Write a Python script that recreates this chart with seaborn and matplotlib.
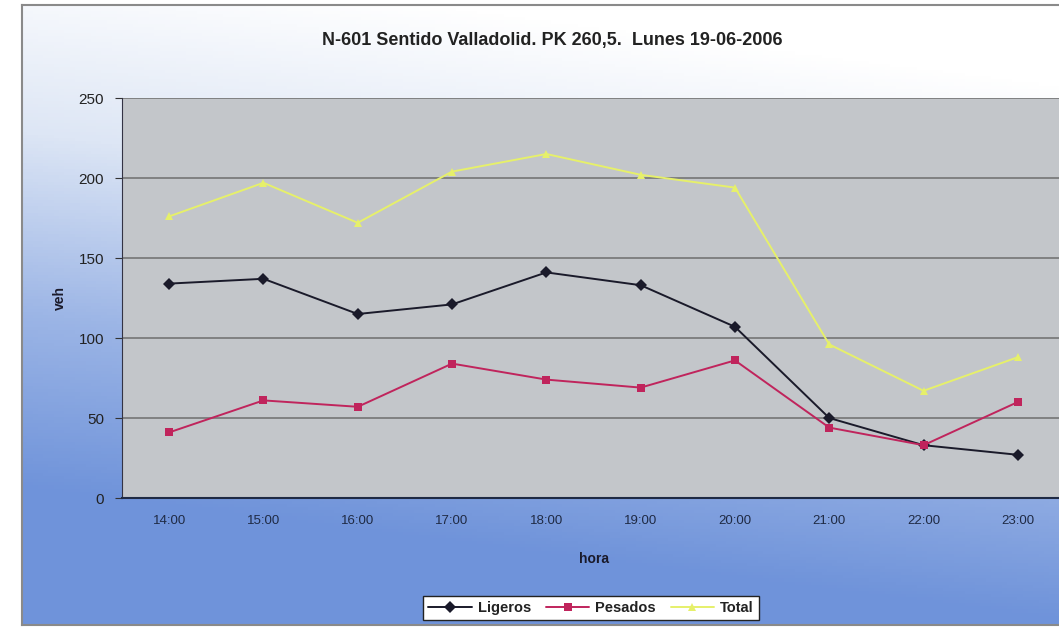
import numpy as np
import pandas as pd
import matplotlib.pyplot as plt
from matplotlib.colors import LinearSegmentedColormap
from matplotlib.ticker import FixedLocator
import seaborn as sns

# Datos
horas = ["14:00", "15:00", "16:00", "17:00", "18:00", "19:00", "20:00", "21:00", "22:00", "23:00"]
ligeros = [134, 137, 115, 121, 141, 133, 107, 50, 33, 27]
pesados = [41, 61, 57, 84, 74, 69, 86, 44, 33, 60]
total = [176, 197, 172, 204, 215, 202, 194, 96, 67, 88]

df = pd.DataFrame({"hora": horas, "Ligeros": ligeros, "Pesados": pesados, "Total": total})
df_long = df.melt(id_vars="hora", var_name="serie", value_name="veh")
df_long["x"] = df_long["hora"].map({h: i for i, h in enumerate(horas)})

sns.set_style("white")
plt.rcParams["font.family"] = ["Liberation Sans", "DejaVu Sans"]

fig = plt.figure(figsize=(10.59, 6.30), dpi=100)
fig.patch.set_facecolor("white")

# fondo degradado del área del gráfico
bg = fig.add_axes([22 / 1059, 5 / 630, 1.0, 620 / 630])
ny, nx = 200, 200
yy, xx = np.mgrid[0:1:ny * 1j, 0:1:nx * 1j]
grad = np.clip(1.15 * yy + 0.25 * (1 - xx) - 0.15, 0, 1)
cmap = LinearSegmentedColormap.from_list("bg", ["#ffffff", "#dde6f5", "#9db6e6", "#6f93da"])
bg.imshow(grad, cmap=cmap, aspect="auto", extent=[0, 1, 0, 1], origin="upper")
bg.set_xticks([])
bg.set_yticks([])
for s in bg.spines.values():
    s.set_color("#8a8a8a")
    s.set_linewidth(1.5)

# área de trazado
ax = fig.add_axes([122 / 1059, 132 / 630, 943 / 1059, 400 / 630])
ax.set_facecolor("#c3c6ca")

colores = {"Ligeros": "#1a1a2a", "Pesados": "#c0245c", "Total": "#e6f06a"}
marcadores = {"Ligeros": "D", "Pesados": "s", "Total": "^"}
sns.lineplot(data=df_long, x="x", y="veh", hue="serie", style="serie",
             palette=colores, markers=marcadores, dashes=False, markersize=6,
             linewidth=1.4, markeredgewidth=0, ax=ax)

ax.set_xlim(-0.5, 9.5)
ax.set_ylim(0, 250)
ax.set_yticks([0, 50, 100, 150, 200, 250])
ax.set_xticks(range(len(horas)))
ax.set_xticklabels(horas)
ax.xaxis.set_minor_locator(FixedLocator(np.arange(-0.5, 10, 1)))
ax.tick_params(axis="x", which="major", length=0, pad=12, labelsize=9.5, labelcolor="#1f2a44")
ax.tick_params(axis="x", which="minor", length=4, direction="out", color="#1f2a44")
ax.tick_params(axis="y", length=5, direction="out", color="#333333", labelsize=11,
               labelcolor="#222222", left=True, pad=8)
ax.yaxis.grid(True, color="#6e6e6e", linewidth=1.1)
ax.set_axisbelow(True)
for s in ["top", "right"]:
    ax.spines[s].set_visible(False)
ax.spines["left"].set_color("#333344")
ax.spines["bottom"].set_color("#1f2a44")
ax.spines["bottom"].set_linewidth(1.5)

ax.set_xlabel("hora", fontsize=10, fontweight="bold", color="#1a1a2a", labelpad=18)
ax.set_ylabel("veh", fontsize=10, fontweight="bold", color="#1a1a2a", labelpad=8)

fig.text(552 / 1059, 1 - 40 / 630, "N-601 Sentido Valladolid. PK 260,5.  Lunes 19-06-2006",
         ha="center", va="center", fontsize=13, fontweight="bold", color="#222222")

handles, labels = ax.get_legend_handles_labels()
leg = ax.legend(handles, labels, loc="center", ncol=3, frameon=True, fancybox=False,
                framealpha=1, facecolor="white",
                prop={"weight": "bold", "size": 10.5}, handlelength=3.0,
                columnspacing=1.0, handletextpad=0.4, borderpad=0.35)
leg.get_frame().set_edgecolor("#222222")
leg.get_frame().set_linewidth(1.0)
for t in leg.get_texts():
    t.set_color("#222222")
leg.set_bbox_to_anchor((591 / 1059, 1 - 608 / 630), transform=fig.transFigure)

fig.savefig("out.png", dpi=100)
